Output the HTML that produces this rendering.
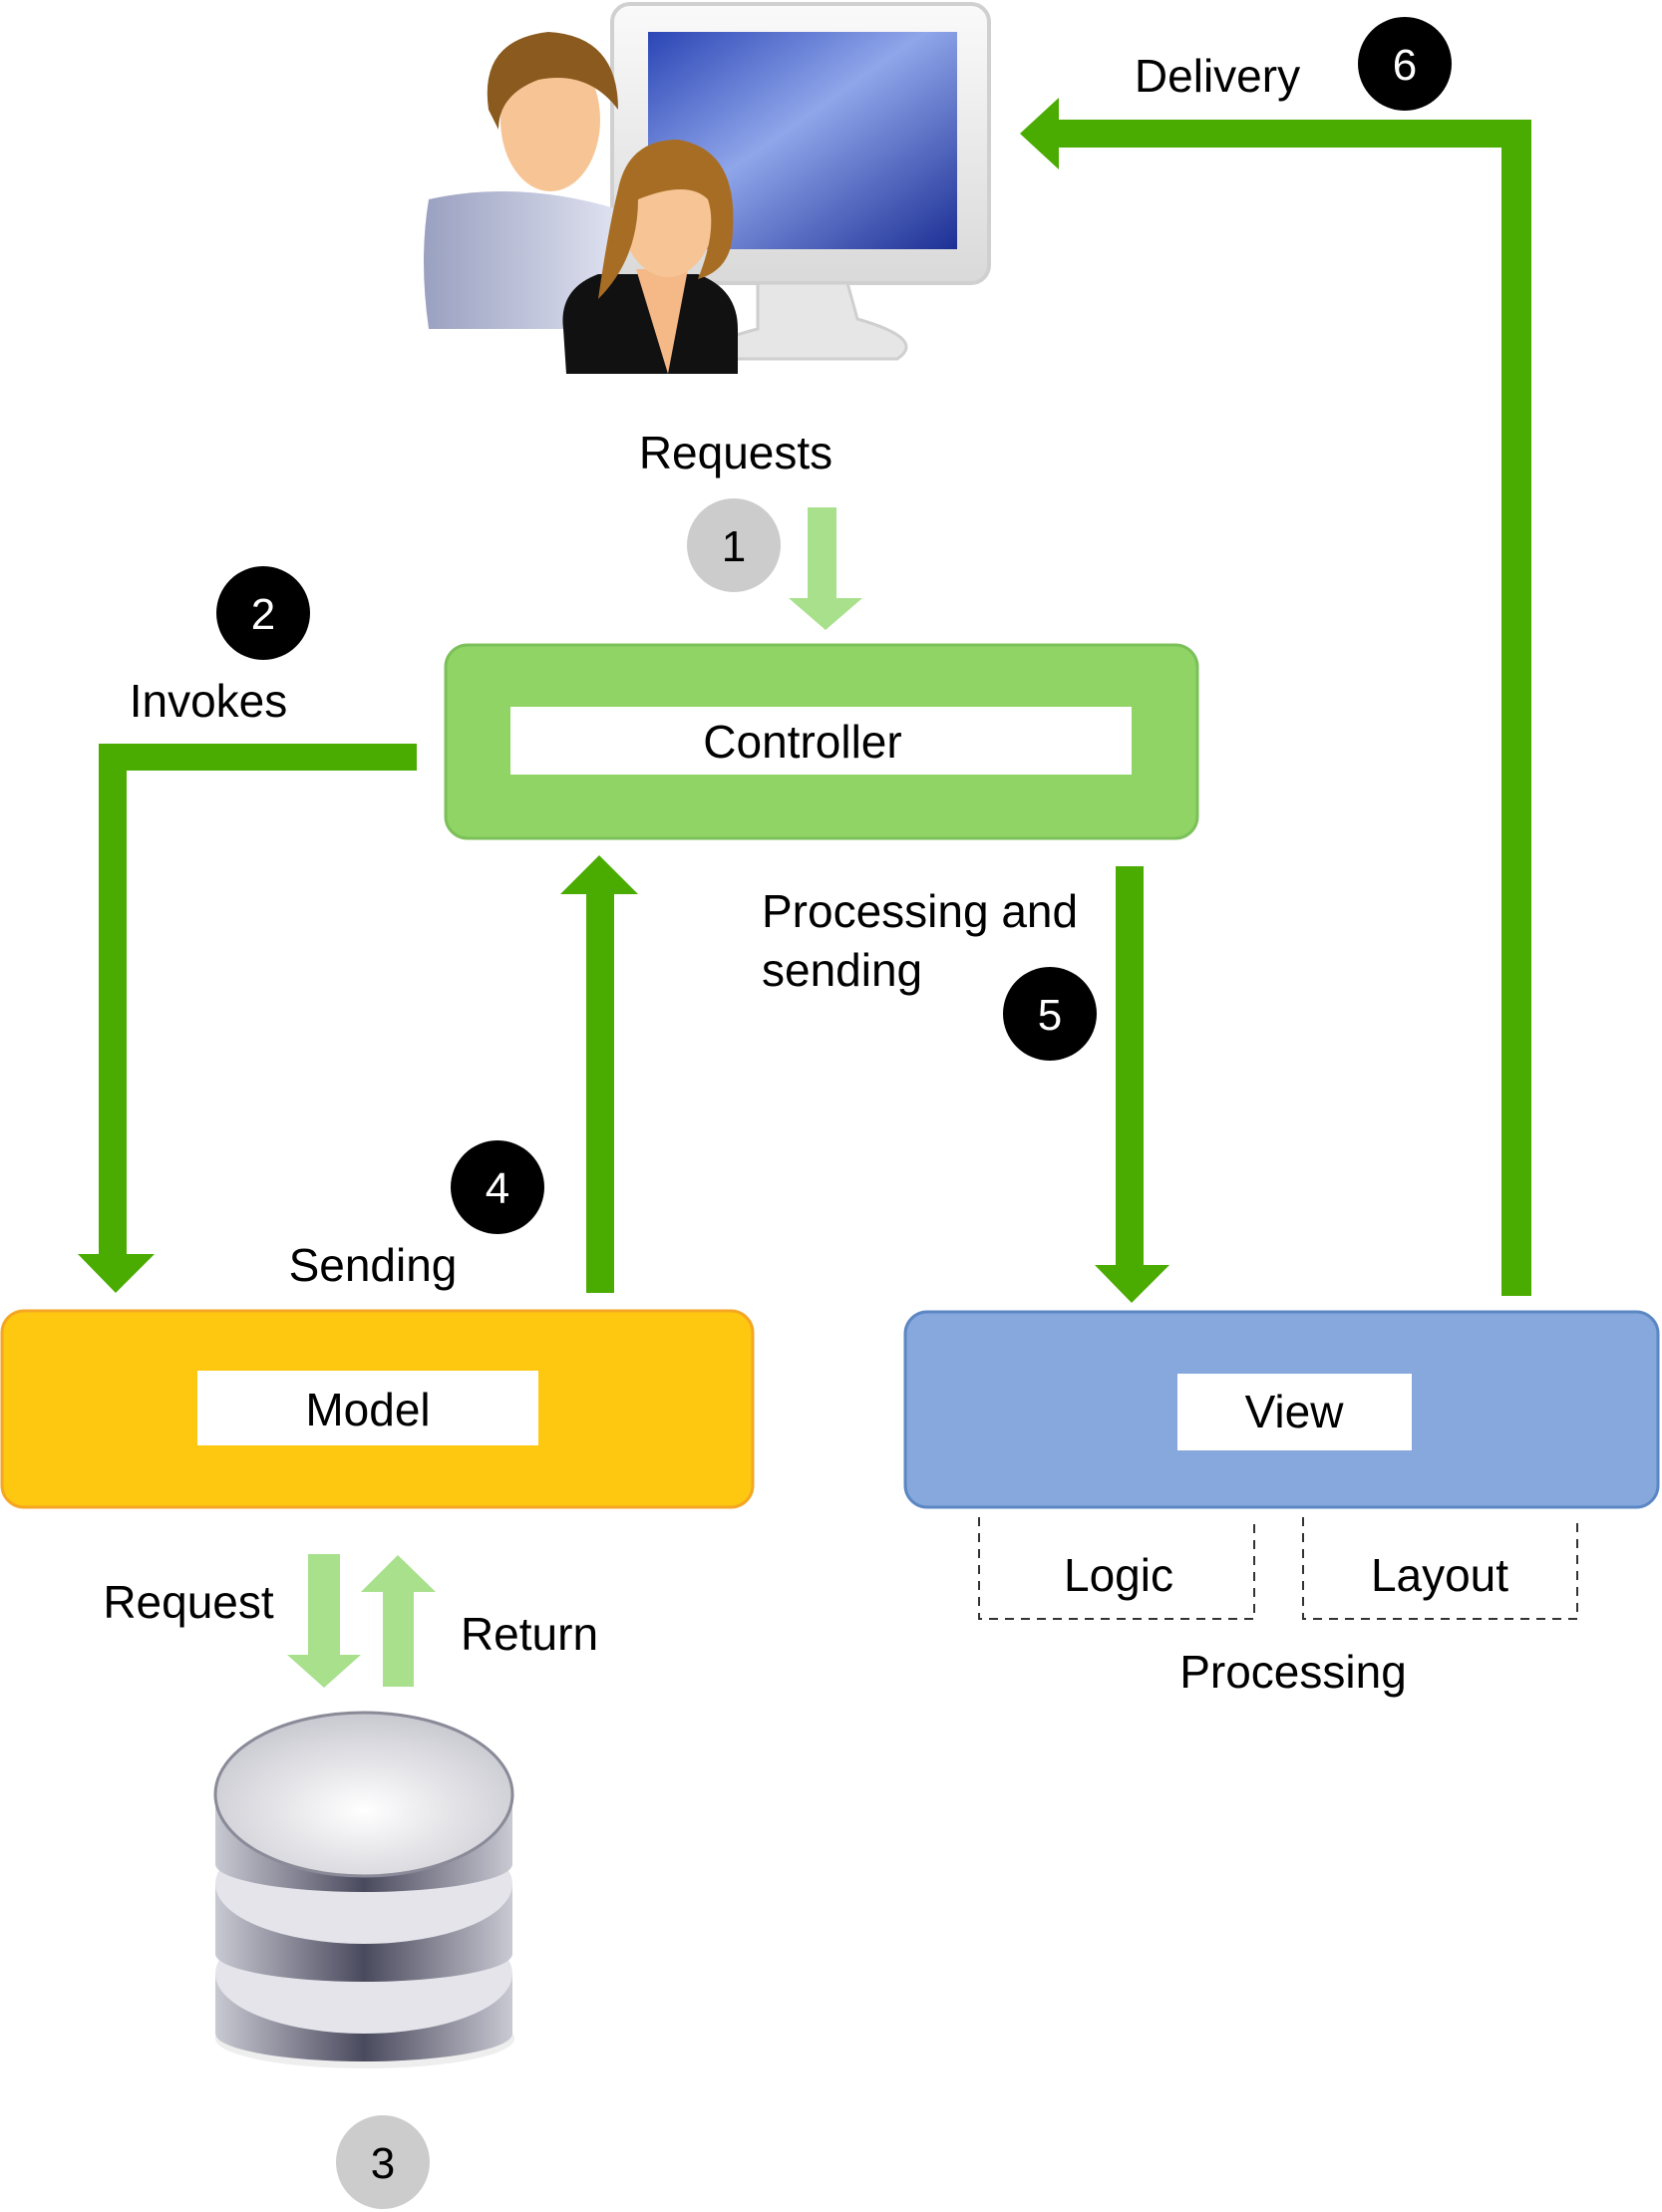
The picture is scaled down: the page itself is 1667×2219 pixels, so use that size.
<!DOCTYPE html>
<html><head><meta charset="utf-8"><style>
html,body{margin:0;padding:0;background:#fff;}
svg{display:block;}
text{font-family:"Liberation Sans",sans-serif;fill:#000;}
</style></head><body>
<svg width="1667" height="2219" viewBox="0 0 1667 2219" xmlns="http://www.w3.org/2000/svg">
<defs>
<linearGradient id="scr" x1="0" y1="0" x2="1" y2="1"><stop offset="0" stop-color="#2b45b5"/><stop offset="0.45" stop-color="#8fa6ea"/><stop offset="1" stop-color="#1c2f95"/></linearGradient>
<linearGradient id="mon" x1="0" y1="0" x2="0" y2="1"><stop offset="0" stop-color="#fafafa"/><stop offset="1" stop-color="#d9d9d9"/></linearGradient>
<linearGradient id="shirt" x1="0" y1="0" x2="1" y2="0"><stop offset="0" stop-color="#9aa0c0"/><stop offset="1" stop-color="#dfe2f0"/></linearGradient>
<linearGradient id="disk" x1="0" y1="0" x2="1" y2="0"><stop offset="0" stop-color="#c9c9d3"/><stop offset="0.5" stop-color="#4a4a5e"/><stop offset="1" stop-color="#c9c9d3"/></linearGradient>
<radialGradient id="top" cx="0.5" cy="0.6" r="0.6"><stop offset="0" stop-color="#ffffff"/><stop offset="1" stop-color="#c8c8d0"/></radialGradient>
</defs>

<!-- monitor -->
<rect x="614" y="4" width="378" height="280" rx="18" fill="url(#mon)" stroke="#d0d0d0" stroke-width="4"/>
<rect x="650" y="32" width="310" height="218" fill="url(#scr)"/>
<path d="M760 284 L760 330 Q700 345 720 360 L900 360 Q930 340 860 320 L850 284 Z" fill="#e6e6e6" stroke="#cfcfcf" stroke-width="3"/>
<!-- man -->
<path d="M430 200 Q520 180 620 210 L620 330 L430 330 Q420 260 430 200 Z" fill="url(#shirt)"/>
<ellipse cx="552" cy="120" rx="50" ry="72" fill="#f7c595"/>
<path d="M490 110 Q480 40 550 32 Q620 36 620 110 Q590 70 540 80 Q500 95 500 130 Z" fill="#8a5a1e"/>
<!-- woman -->
<path d="M565 330 Q560 290 600 275 L700 275 Q740 290 740 330 Q740 372 740 375 L568 375 Z" fill="#111"/>
<path d="M638 270 L670 375 L690 270 Z" fill="#f5b887"/>
<ellipse cx="670" cy="210" rx="48" ry="68" fill="#f7c595"/>
<path d="M600 300 Q610 230 620 190 Q630 140 680 140 Q740 150 735 230 Q735 270 700 280 Q720 230 710 200 Q690 180 640 200 Q640 260 600 300 Z" fill="#a86d24"/>

<!-- arrow 6 -->
<rect x="1506" y="120" width="30" height="1180" fill="#4aab00"/>
<rect x="1060" y="120" width="476" height="28" fill="#4aab00"/>
<polygon points="1023,134 1062,98 1062,170" fill="#4aab00"/>
<circle cx="1409" cy="64" r="47" fill="#000"/>
<text x="1409" y="80" font-size="44" text-anchor="middle" fill="#fff" style="fill:#fff">6</text>
<text x="1221" y="92" font-size="46" text-anchor="middle">Delivery</text>

<!-- requests -->
<text x="738" y="470" font-size="46" text-anchor="middle">Requests</text>
<circle cx="736" cy="547" r="47" fill="#cccccc"/>
<text x="736" y="563" font-size="44" text-anchor="middle">1</text>
<rect x="810" y="509" width="29" height="92" fill="#a8e08c"/>
<polygon points="791,600 865,600 828,632" fill="#a8e08c"/>

<!-- controller -->
<rect x="447" y="647" width="754" height="194" rx="22" fill="#8fd464" stroke="#7cc05a" stroke-width="3"/>
<rect x="512" y="709" width="623" height="68" fill="#fff"/>
<text x="805" y="760" font-size="46" text-anchor="middle">Controller</text>

<!-- invokes -->
<circle cx="264" cy="615" r="47" fill="#000"/>
<text x="264" y="631" font-size="44" text-anchor="middle" style="fill:#fff">2</text>
<text x="209" y="719" font-size="46" text-anchor="middle">Invokes</text>
<rect x="99" y="746" width="319" height="27" fill="#4aab00"/>
<rect x="99" y="746" width="28" height="514" fill="#4aab00"/>
<polygon points="78,1258 155,1258 116,1297" fill="#4aab00"/>

<!-- arrow 4 -->
<rect x="588" y="895" width="28" height="402" fill="#4aab00"/>
<polygon points="562,897 640,897 601,858" fill="#4aab00"/>
<circle cx="499" cy="1191" r="47" fill="#000"/>
<text x="499" y="1207" font-size="44" text-anchor="middle" style="fill:#fff">4</text>
<text x="374" y="1285" font-size="46" text-anchor="middle">Sending</text>

<!-- arrow 5 -->
<rect x="1119" y="869" width="28" height="402" fill="#4aab00"/>
<polygon points="1098,1269 1173,1269 1135,1307" fill="#4aab00"/>
<text x="764" y="930" font-size="46">Processing and</text>
<text x="764" y="989" font-size="46">sending</text>
<circle cx="1053" cy="1017" r="47" fill="#000"/>
<text x="1053" y="1033" font-size="44" text-anchor="middle" style="fill:#fff">5</text>

<!-- model -->
<rect x="2" y="1315" width="753" height="197" rx="22" fill="#fdc80f" stroke="#f5a623" stroke-width="3"/>
<rect x="198" y="1375" width="342" height="75" fill="#fff"/>
<text x="369" y="1430" font-size="46" text-anchor="middle">Model</text>

<!-- view -->
<rect x="908" y="1316" width="755" height="196" rx="22" fill="#86a8dc" stroke="#5b87c4" stroke-width="3"/>
<rect x="1181" y="1378" width="235" height="77" fill="#fff"/>
<text x="1298" y="1432" font-size="46" text-anchor="middle">View</text>

<!-- dashed boxes -->
<path d="M982 1522 L982 1624 L1258 1624 L1258 1522" fill="none" stroke="#333" stroke-width="2" stroke-dasharray="9,7"/>
<path d="M1307 1522 L1307 1624 L1582 1624 L1582 1522" fill="none" stroke="#333" stroke-width="2" stroke-dasharray="9,7"/>
<text x="1122" y="1596" font-size="46" text-anchor="middle">Logic</text>
<text x="1444" y="1596" font-size="46" text-anchor="middle">Layout</text>
<text x="1297" y="1693" font-size="46" text-anchor="middle">Processing</text>

<!-- request/return -->
<text x="189" y="1623" font-size="46" text-anchor="middle">Request</text>
<text x="531" y="1655" font-size="46" text-anchor="middle">Return</text>
<rect x="309" y="1559" width="32" height="103" fill="#a8e08c"/>
<polygon points="288,1660 362,1660 325,1693" fill="#a8e08c"/>
<rect x="384" y="1595" width="31" height="97" fill="#a8e08c"/>
<polygon points="362,1597 437,1597 399,1560" fill="#a8e08c"/>

<!-- database -->
<ellipse cx="366" cy="2045" rx="150" ry="30" fill="#ddd" opacity="0.5"/>
<rect x="216" y="1980" width="298" height="60" fill="url(#disk)"/>
<ellipse cx="365" cy="2040" rx="149" ry="28" fill="url(#disk)"/>
<ellipse cx="365" cy="1980" rx="149" ry="60" fill="#e4e4ea"/>
<rect x="216" y="1890" width="298" height="70" fill="url(#disk)"/>
<ellipse cx="365" cy="1960" rx="149" ry="28" fill="url(#disk)"/>
<ellipse cx="365" cy="1890" rx="149" ry="60" fill="#e4e4ea"/>
<rect x="216" y="1800" width="298" height="70" fill="url(#disk)"/>
<ellipse cx="365" cy="1870" rx="149" ry="28" fill="url(#disk)"/>
<ellipse cx="365" cy="1800" rx="149" ry="82" fill="url(#top)" stroke="#8a8a98" stroke-width="3"/>

<circle cx="384" cy="2169" r="47" fill="#cccccc"/>
<text x="384" y="2185" font-size="44" text-anchor="middle">3</text>
</svg>
</body></html>
